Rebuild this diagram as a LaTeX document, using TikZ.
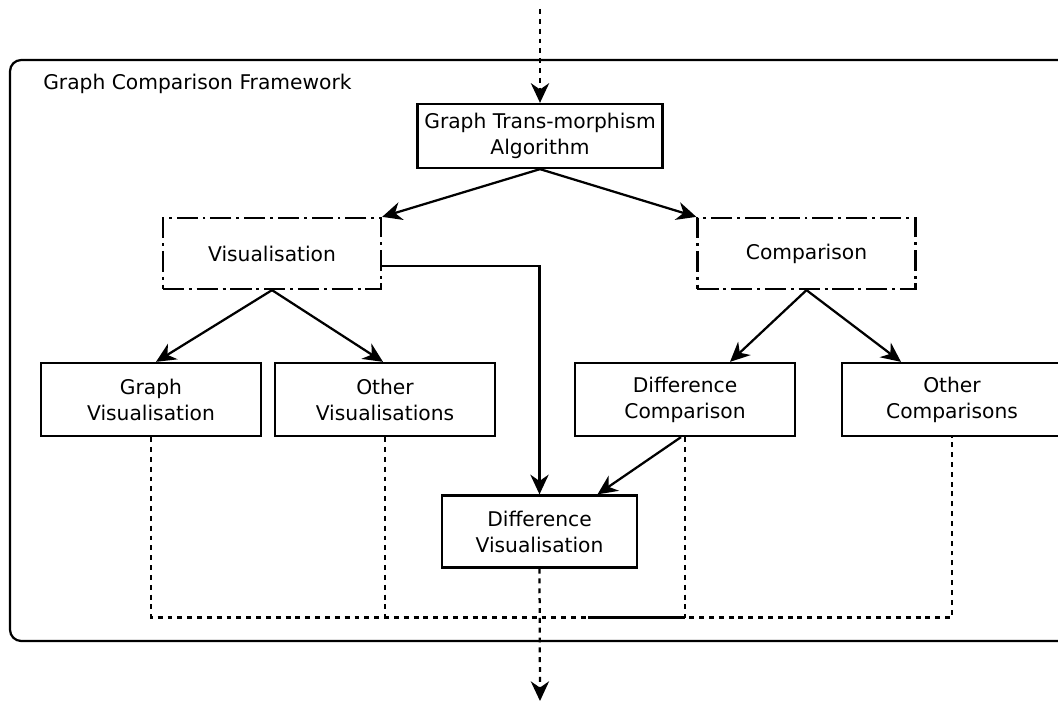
\documentclass[tikz,border=0pt]{standalone}
\usepackage{fontspec}
\setmainfont{DejaVu Sans}
\usetikzlibrary{arrows.meta, calc}
\tikzstyle{block}=[draw, line width=1.6pt, align=center, minimum width=5.5cm, minimum height=1.825cm, font=\fontsize{14.4}{18.5}\selectfont]
\tikzstyle{group}=[block, dash pattern=on 15pt off 3.5pt on 2pt off 3.5pt, minimum width=5.45cm, minimum height=1.775cm]
\tikzstyle{link}=[line width=1.6pt, -{Stealth[length=14pt, width=13pt, inset=4.5pt]}]
\tikzstyle{flow}=[link, dash pattern=on 3.5pt off 3.5pt]
\tikzstyle{bus}=[line width=1.6pt, dash pattern=on 3.5pt off 3.5pt]
\newcommand{\block}{\node[block]}

\begin{document}
\begin{tikzpicture}[x=0.025cm, y=-0.025cm]
\clip (0,0) rectangle (1058,702);
%frame
\draw[line width=1.6pt, rounded corners=8pt] (10,60) rectangle (1080,641);
\node[anchor=base west, inner sep=0pt, font=\fontsize{14.4}{18.5}\selectfont] (title) at (43,90){Graph Comparison Framework};
%blocks
\block[minimum width=6.125cm, minimum height=1.6cm] (alg) at (540,136){Graph Trans-morphism\\Algorithm};
\node[group] (vis) at (272,253.5){Visualisation};
\node[group] (cmp) at (806.5,253.5){Comparison};
\block (gvis) at (151,399.5){Graph\\Visualisation};
\block (ovis) at (385,399.5){Other\\Visualisations};
\block (dcmp) at (685,399.5){Difference\\Comparison};
\block (ocmp) at (952,399.5){Other\\Comparisons};
\block[minimum width=4.875cm, minimum height=1.8cm] (dvis) at (539.5,531.5){Difference\\Visualisation};
%ends
\coordinate (in) at (540,9);
\coordinate (out) at (540,701);
\coordinate (bus) at (0,617.5);
\coordinate (seg) at (588,617.5);
%edges
\draw[flow] (in) -- (alg.north);
\draw[link] (alg.south) -- (vis.north east);
\draw[link] (alg.south) -- (cmp.north west);
\draw[link] (vis.south) -- ($(gvis.north)+(5,0)$);
\draw[link] (vis.south) -- ($(ovis.north)+(-2,0)$);
\draw[link] (cmp.south) -- ($(dcmp.north)+(45,0)$);
\draw[link] (cmp.south) -- ($(ocmp.north)+(-51,0)$);
\draw[link] ($(vis.east)+(0,12.5)$) -| (dvis.north);
\draw[link] ($(dcmp.south)+(-4,0)$) -- ($(dvis.north)+(58,0)$);
\draw[bus] (gvis.south) -- (gvis.south |- bus) -- (ocmp.south |- bus) -- (ocmp.south);
\foreach \n in {ovis, dcmp}{
	\draw[bus] (\n.south) -- (\n.south |- bus);}
\draw[line width=1.6pt] (seg) -- (dcmp.south |- bus);
\draw[flow] (dvis.south) -- (out);
\end{tikzpicture}
\end{document}
